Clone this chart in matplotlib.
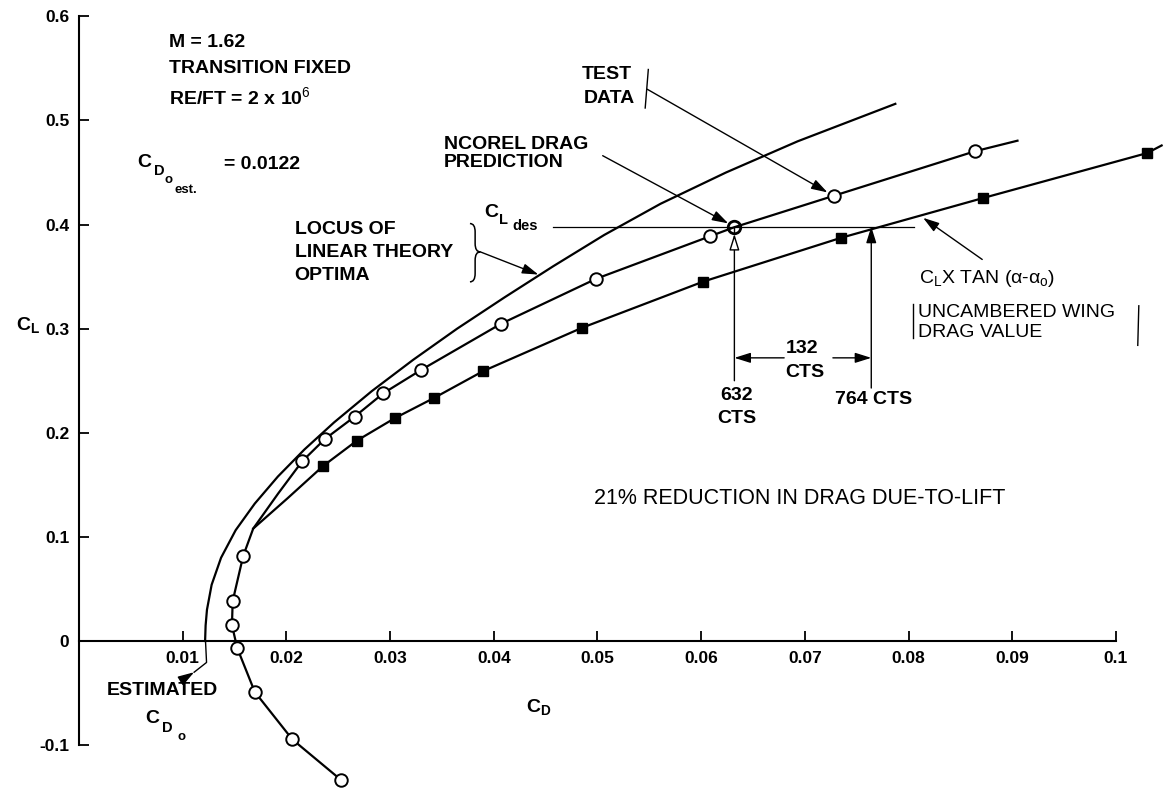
import matplotlib as mpl

mpl.use('Agg')
import matplotlib.pyplot as plt
from matplotlib.path import Path
from matplotlib.patches import PathPatch

plt.rcParams['font.family'] = ['Liberation Sans', 'DejaVu Sans']
plt.rcParams['mathtext.fontset'] = 'custom'
plt.rcParams['mathtext.rm'] = 'Liberation Sans'
plt.rcParams['mathtext.it'] = 'Liberation Sans'
plt.rcParams['mathtext.bf'] = 'Liberation Sans:bold'

# wind tunnel test data (open circles)
test_cd = [0.02526, 0.02058, 0.01695, 0.01526, 0.01475, 0.01482, 0.01583, 0.02152, 0.02371,
           0.02658, 0.02935, 0.03299, 0.04067, 0.04988, 0.06083, 0.07276, 0.08642]
test_cl = [-0.1334, -0.0946, -0.0489, -0.0068, 0.0152, 0.0383, 0.0816, 0.1726, 0.1940,
           0.2155, 0.2380, 0.2604, 0.3046, 0.3480, 0.3887, 0.4276, 0.4705]
# faired curve through the test data
fair_cd = [0.02526, 0.02058, 0.01695, 0.01526, 0.01475, 0.01482, 0.01583, 0.0168, 0.0192, 0.02152,
           0.02371, 0.02658, 0.02935, 0.03299, 0.04067, 0.04988, 0.06083, 0.0632, 0.07276, 0.08642, 0.0905]
fair_cl = [-0.1334, -0.0946, -0.0489, -0.0068, 0.0152, 0.0383, 0.0816, 0.108, 0.1416, 0.1726,
           0.1940, 0.2155, 0.2380, 0.2604, 0.3046, 0.3480, 0.3887, 0.3975, 0.4276, 0.4705, 0.4806]

# CL x tan(alpha - alpha0), uncambered wing drag (filled squares)
unc_cd = [0.02354, 0.0268, 0.03044, 0.03428, 0.03898, 0.04849, 0.06021, 0.07348, 0.08714, 0.1030]
unc_cl = [0.1681, 0.1925, 0.2140, 0.2337, 0.2593, 0.3008, 0.3453, 0.3873, 0.4254, 0.4687]
unc_fair_cd = [0.0168, 0.0201] + unc_cd + [0.1044]
unc_fair_cl = [0.108, 0.137] + unc_cl + [0.476]

# locus of linear theory optima
locus_cd = [0.01216, 0.01221, 0.01234, 0.01279, 0.01370, 0.01511, 0.01695, 0.01918, 0.02174,
            0.02460, 0.02823, 0.03221, 0.03646, 0.04102, 0.04573, 0.05064, 0.05608, 0.06238,
            0.06930, 0.07872]
locus_cl = [0.0, 0.015, 0.030, 0.054, 0.080, 0.1065, 0.132, 0.158, 0.184,
            0.210, 0.240, 0.270, 0.300, 0.330, 0.360, 0.390, 0.420, 0.450,
            0.480, 0.516]

cd0_est = 0.0122
cl_des = 0.398
cd_ncorel = 0.0632
cd_uncamb = 0.0764

xticks = [0.01, 0.02, 0.03, 0.04, 0.05, 0.06, 0.07, 0.08, 0.09, 0.1]
xlabels = ['0.01', '0.02', '0.03', '0.04', '0.05', '0.06', '0.07', '0.08', '0.09', '0.1']
yticks = [-0.1, 0, 0.1, 0.2, 0.3, 0.4, 0.5, 0.6]
ylabels = ['-0.1', '0', '0.1', '0.2', '0.3', '0.4', '0.5', '0.6']

fig = plt.figure(figsize=(11.66, 7.94), dpi=100)
ax = fig.add_axes([0, 0, 1, 1])
ax.set_xlim(-0.007618, 0.104822)
ax.set_ylim(-0.14697, 0.61575)
ax.patch.set_visible(False)

for s in ['top', 'right']:
    ax.spines[s].set_visible(False)
ax.spines['left'].set_position(('data', 0))
ax.spines['bottom'].set_position(('data', 0))
ax.spines['left'].set_bounds(-0.1, 0.6)
ax.spines['bottom'].set_bounds(0, 0.1)
for s in ['left', 'bottom']:
    ax.spines[s].set_linewidth(1.5)
ax.set_xticks(xticks, xlabels)
ax.set_yticks(yticks, ylabels)
ax.tick_params(direction='in', length=7, width=1.3, labelsize=12.5)
ax.tick_params(axis='x', pad=7)
ax.tick_params(axis='y', pad=7)
for t in ax.get_xticklabels() + ax.get_yticklabels():
    t.set_fontweight('bold')
ax.yaxis.get_major_ticks()[1].tick1line.set_visible(False)

lw = 1.6
ax.plot(locus_cd, locus_cl, color='black', lw=lw)
ax.plot(fair_cd, fair_cl, color='black', lw=lw)
ax.plot(unc_fair_cd, unc_fair_cl, color='black', lw=lw)
ax.plot(test_cd, test_cl, 'o', ms=9, mfc='white', mec='black', mew=1.4)
ax.plot(unc_cd, unc_cl, 's', ms=7.5, mfc='black', mec='black')

head = '-|>,head_length=0.7,head_width=0.22'


def arrow(x0, y0, x1, y1, shrink=0, fc='black', lw=1.0):
    ax.annotate('', xy=(x1, y1), xytext=(x0, y0),
                arrowprops=dict(arrowstyle=head, mutation_scale=14, lw=lw, color='black',
                                fc=fc, shrinkA=0, shrinkB=shrink))


def brace(x0, w, top, mid, bot, r=0.008):
    xm = x0 + w / 2
    verts = [(x0, top), (xm, top), (xm, top - r), (xm, mid + r), (xm, mid), (x0 + w, mid),
             (xm, mid), (xm, mid - r), (xm, bot + r), (xm, bot), (x0, bot)]
    codes = [Path.MOVETO, Path.CURVE3, Path.CURVE3, Path.LINETO, Path.CURVE3, Path.CURVE3,
             Path.CURVE3, Path.CURVE3, Path.LINETO, Path.CURVE3, Path.CURVE3]
    ax.add_patch(PathPatch(Path(verts, codes), fc='none', ec='black', lw=1.1))


bold = dict(fontsize=14, color='black', fontweight='bold')
reg = dict(fontsize=14, color='black')

# flight condition
ax.text(0.0087, 0.5746, 'M = 1.62', va='center', **bold)
ax.text(0.0087, 0.550, 'TRANSITION FIXED', va='center', **bold)
ax.text(0.0087, 0.5226, r'RE/FT = 2 x 10$^{6}$', va='center', **bold)
ax.text(0.0063, 0.460, 'C', ha='center', va='center', **bold)
ax.text(0.00770, 0.4515, 'D', ha='center', va='center', fontsize=10.5, fontweight='bold')
ax.text(0.00862, 0.443, 'o', ha='center', va='center', fontsize=9.5, fontweight='bold')
ax.text(0.00925, 0.4334, 'est.', va='center', fontsize=9.5, fontweight='bold')
ax.text(0.0140, 0.458, '= 0.0122', va='center', **bold)

# CL design line
ax.text(0.0398, 0.412, 'C', ha='center', va='center', **bold)
ax.text(0.0409, 0.4045, 'L', ha='center', va='center', fontsize=10.5, fontweight='bold')
ax.text(0.0430, 0.399, 'des', ha='center', va='center', fontsize=10.5, fontweight='bold')
ax.plot([0.0457, 0.0805], [cl_des, cl_des], color='black', lw=0.9)

# locus label with brace
ax.text(0.0208, 0.3954, 'LOCUS OF', va='center', **bold)
ax.text(0.0208, 0.3733, 'LINEAR THEORY', va='center', **bold)
ax.text(0.0208, 0.351, 'OPTIMA', va='center', **bold)
brace(0.0377, 0.0010, 0.401, 0.3738, 0.345)
arrow(0.0387, 0.3738, 0.0443, 0.352)

# test data
ax.text(0.0509, 0.544, 'TEST', ha='center', va='center', **bold)
ax.text(0.0511, 0.5215, 'DATA', ha='center', va='center', **bold)
ax.plot([0.0549, 0.0546], [0.549, 0.512], color='black', lw=1.0)
arrow(0.0548, 0.530, 0.07276, 0.4276, shrink=5)

# NCOREL prediction
ax.text(0.0352, 0.477, 'NCOREL DRAG', va='center', **bold)
ax.text(0.0352, 0.4596, 'PREDICTION', va='center', **bold)
arrow(0.0505, 0.4662, cd_ncorel, cl_des, shrink=5)

# uncambered wing label
ax.text(0.0810, 0.3484, r'C$_{\mathregular{L}}$X TAN ($\alpha$-$\alpha_{\mathregular{o}}$)',
        va='center', **reg)
ax.text(0.0809, 0.316, 'UNCAMBERED WING', va='center', **reg)
ax.text(0.0809, 0.2966, 'DRAG VALUE', va='center', **reg)
ax.plot([0.0804, 0.0804], [0.324, 0.291], color='black', lw=1.0)
ax.plot([0.1022, 0.1021], [0.322, 0.284], color='black', lw=1.0)
arrow(0.0871, 0.3665, 0.0814, 0.4065)

# drag increments
ax.annotate('', xy=(cd_ncorel, cl_des - 0.007), xytext=(cd_ncorel, 0.25),
            arrowprops=dict(arrowstyle=head, mutation_scale=14, lw=1.0, color='black',
                            fc='white', shrinkA=0, shrinkB=0))
ax.plot([cd_ncorel, cd_ncorel], [cl_des - 0.007, cl_des], color='black', lw=1.0)
ax.plot([cd_ncorel], [cl_des], 'o', ms=9, mfc='none', mec='black', mew=2)
arrow(cd_uncamb, 0.243, cd_uncamb, cl_des)
arrow(0.0680, 0.272, cd_ncorel, 0.272)
arrow(0.0727, 0.272, cd_uncamb, 0.272)
ax.text(0.0697, 0.281, '132', ha='center', va='center', **bold)
ax.text(0.0700, 0.258, 'CTS', ha='center', va='center', **bold)
ax.text(0.0634, 0.236, '632', ha='center', va='center', **bold)
ax.text(0.0634, 0.214, 'CTS', ha='center', va='center', **bold)
ax.text(0.0766, 0.232, '764 CTS', ha='center', va='center', **bold)

ax.text(0.0497, 0.137, '21% REDUCTION IN DRAG DUE-TO-LIFT', va='center', fontsize=15.5,
        color='black')

# estimated CD0 leader
ax.plot([cd0_est, 0.0123, 0.0111], [0.0, -0.0206, -0.030], color='black', lw=1.0)
arrow(0.0098, -0.0382, 0.0111, -0.030)
ax.text(0.0080, -0.048, 'ESTIMATED', ha='center', va='center', **bold)
ax.text(0.00705, -0.0745, 'C', ha='center', va='center', **bold)
ax.text(0.00850, -0.0840, 'D', ha='center', va='center', fontsize=10.5, fontweight='bold')
ax.text(0.00985, -0.0925, 'o', ha='center', va='center', fontsize=9.5, fontweight='bold')

# axis titles
ax.text(-0.0049, 0.3035, r'C$_{\mathregular{L}}$', ha='center', va='center', **bold)
ax.text(0.0443, -0.063, r'C$_{\mathregular{D}}$', ha='center', va='center', **bold)

fig.savefig('out.png', dpi=100)
